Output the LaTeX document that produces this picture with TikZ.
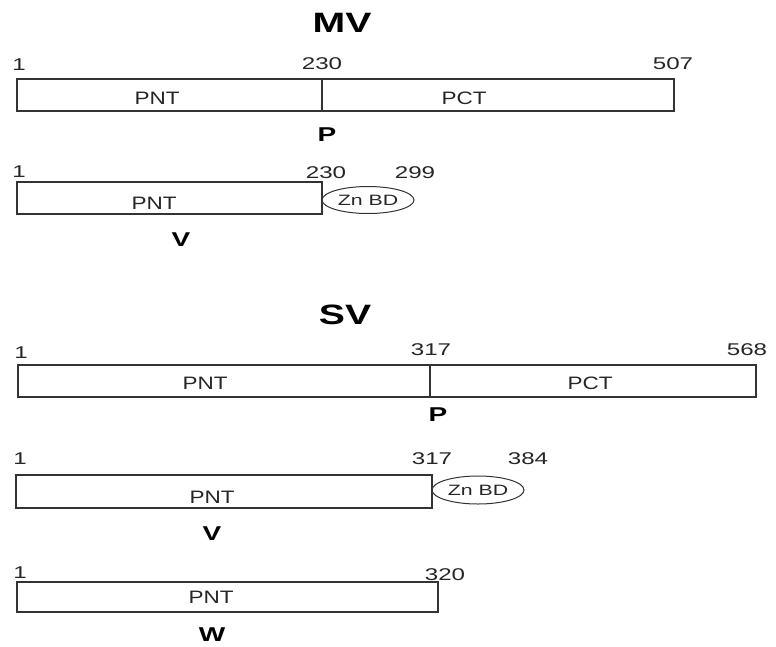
\documentclass[tikz,border=0pt]{standalone}
\usepackage{fontspec}
\setmainfont{Liberation Sans}
\newfontfamily\wide[FakeStretch=1.25]{Liberation Sans}
\newfontfamily\wider[FakeStretch=1.42]{Liberation Sans}
\newfontfamily\widebold[FakeStretch=1.4]{Liberation Sans Bold}
\usetikzlibrary{shapes.geometric}
\begin{document}
\begin{tikzpicture}[x=1pt,y=-1pt,
  ln/.style={draw=black!80, line width=1.2pt},
  lbl/.style={inner sep=0pt, font=\wide\fontsize{18}{18}\selectfont, text=black!85},
  num/.style={inner sep=0pt, font=\wider\fontsize{17}{17}\selectfont, text=black!85},
  ttl/.style={inner sep=0pt, font=\widebold\fontsize{28}{28}\selectfont},
  prot/.style={inner sep=0pt, font=\widebold\fontsize{20}{20}\selectfont},
  znbd/.style={ellipse, ln, line width=1pt, inner sep=0pt, font=\wider\fontsize{15}{15}\selectfont, text=black!85}]
\useasboundingbox (0,0) rectangle (776,646);
% ---- MV ----
\node[ttl] (mvt) at (342,23) {MV};
% P
\coordinate (mpa) at (17,79);
\coordinate (mpb) at (322,111);
\coordinate (mpc) at (674,79);
\draw[ln] (mpa) rectangle (mpb);
\draw[ln] (mpb) rectangle (mpc);
\node[num] (mp1) at (19,65) {1};
\node[num] (mp230) at (322,64) {230};
\node[num] (mp507) at (673,64) {507};
\node[lbl] (mppnt) at (157,98) {PNT};
\node[lbl] (mppct) at (464,98) {PCT};
\node[prot] (mpP) at (327,135) {P};
% V
\coordinate (mva) at (17,182);
\coordinate (mvb) at (322,214);
\draw[ln] (mva) rectangle (mvb);
\node[znbd, minimum width=92, minimum height=27] (mvz) at (368,200) {Zn BD};
\node[num] (mv1) at (19,172) {1};
\node[num] (mv230) at (326,173) {230};
\node[num] (mv299) at (415,173) {299};
\node[lbl] (mvpnt) at (154,203) {PNT};
\node[prot] (mvV) at (181,240) {V};
% ---- SV ----
\node[ttl] (svt) at (345,315) {SV};
% P
\coordinate (spa) at (18,365);
\coordinate (spb) at (430,397);
\coordinate (spc) at (756,365);
\draw[ln] (spa) rectangle (spb);
\draw[ln] (spb) rectangle (spc);
\node[num] (sp1) at (21,353) {1};
\node[num] (sp317) at (431,350) {317};
\node[num] (sp568) at (747,350) {568};
\node[lbl] (sppnt) at (205,383) {PNT};
\node[lbl] (sppct) at (590,383) {PCT};
\node[prot] (spP) at (438,415) {P};
% V
\coordinate (sva) at (16,475);
\coordinate (svb) at (432,508);
\draw[ln] (sva) rectangle (svb);
\node[znbd, minimum width=92, minimum height=28] (svz) at (478,490) {Zn BD};
\node[num] (sv1) at (20,459) {1};
\node[num] (sv317) at (432,459) {317};
\node[num] (sv384) at (528,459) {384};
\node[lbl] (svpnt) at (212,497) {PNT};
\node[prot] (svV) at (212,534) {V};
% W
\coordinate (swa) at (17,582);
\coordinate (swb) at (438,612);
\draw[ln] (swa) rectangle (swb);
\node[num] (sw1) at (20,573) {1};
\node[num] (sw320) at (445,575) {320};
\node[lbl] (swpnt) at (211,597) {PNT};
\node[prot] (swW) at (212,635) {W};
\end{tikzpicture}
\end{document}
